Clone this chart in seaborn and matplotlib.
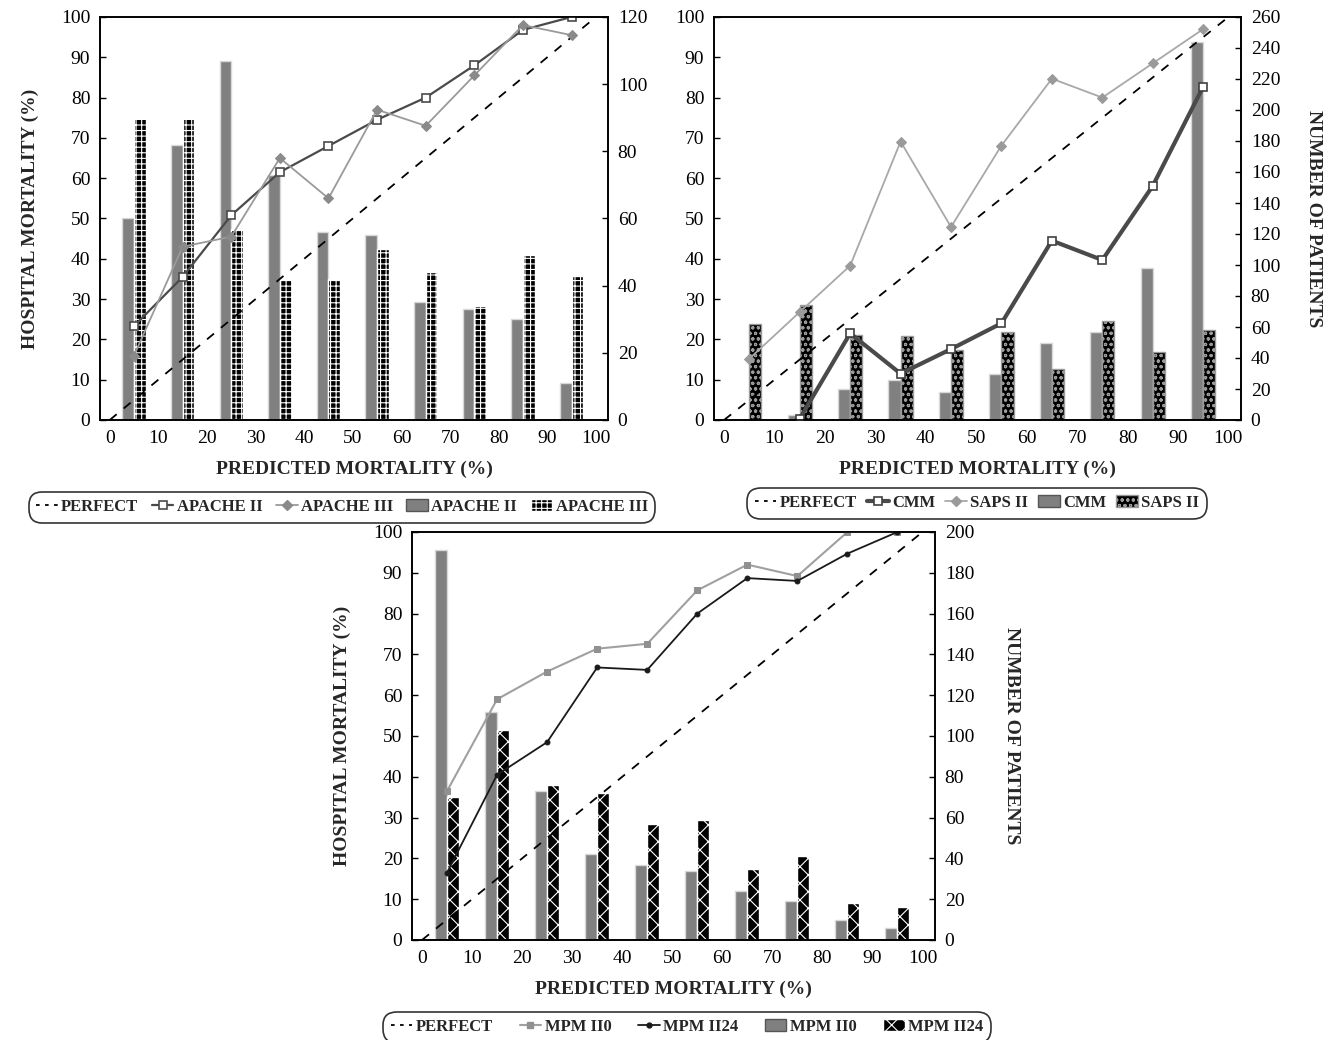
import numpy as np
import pandas as pd
import matplotlib
matplotlib.use("Agg")
import matplotlib.pyplot as plt
import seaborn as sns
from matplotlib.patches import Patch
from matplotlib.lines import Line2D

# ---------------- data ----------------
x_mid = [5, 15, 25, 35, 45, 55, 65, 75, 85, 95]
perfect_x = [0, 100]
perfect_y = [0, 100]
x_ticks = [0, 10, 20, 30, 40, 50, 60, 70, 80, 90, 100]

# Panel 1 (APACHE)
apache2_mort = [23.3, 35.5, 50.8, 61.5, 68, 74.5, 80, 88, 96.8, 100]
apache3_mort = [16, 43, 45.5, 65, 55, 77, 73, 85.5, 98, 95.5]
apache2_n = [60, 82, 107, 73, 56, 55, 35, 33, 30, 11]
apache3_n = [90, 90, 57, 42, 42, 51, 44, 34, 49, 43]

# Panel 2 (CMM / SAPS II)
cmm_mort = [np.nan, 0.3, 21.5, 11.5, 17.6, 24, 44.5, 39.7, 58.1, 82.7]
saps2_mort = [15.2, 26.8, 38.3, 69.1, 47.9, 68.1, 84.7, 80, 88.5, 97]
cmm_n = [0, 3, 20, 26, 18, 30, 50, 57, 98, 244]
saps2_n = [62, 74, 55, 54, 45, 57, 33, 64, 44, 58]

# Panel 3 (MPM II)
mpm0_mort = [36.5, 59, 65.8, 71.4, 72.6, 85.7, 92, 89.2, 100, 100]
mpm24_mort = [16.5, 40.5, 48.5, 66.8, 66.2, 80, 88.7, 88, 94.7, 100]
mpm0_n = [191, 112, 73, 42, 37, 34, 24, 19, 10, 6]
mpm24_n = [70, 103, 76, 72, 57, 59, 35, 41, 18, 16]

# ---------------- style ----------------
sns.set_theme(style="white")
plt.rcParams["font.family"] = ["Liberation Serif", "DejaVu Serif"]
plt.rcParams["hatch.linewidth"] = 0.8

SERIF = ["Liberation Serif", "DejaVu Serif"]
TICK_FS = 14
LABEL_FS = 14
LEG_FS = 12

fig = plt.figure(figsize=(13.39, 10.40), dpi=100)


def style_bars(container, face, edge, hatch):
    for p in container:
        p.set_facecolor(face)
        p.set_edgecolor(edge)
        p.set_linewidth(1.0)
        if hatch:
            p.set_hatch(hatch)


def make_panel(rect, lines, bars, rmax, rstep, left_label, right_label, leg_center,
               colspace=0.6, rpad=32):
    ax = fig.add_axes(rect)
    axr = ax.twinx()
    axr.set_zorder(ax.get_zorder() - 1)
    ax.patch.set_visible(False)
    axr.patch.set_visible(True)
    axr.patch.set_facecolor("white")

    # bars (right axis)
    names = [b[0] for b in bars]
    df_b = pd.DataFrame({
        "x": x_mid * 2,
        "n": list(bars[0][1]) + list(bars[1][1]),
        "model": [names[0]] * len(x_mid) + [names[1]] * len(x_mid),
    })
    sns.barplot(data=df_b, x="x", y="n", hue="model", hue_order=names,
                native_scale=True, dodge=True, width=0.48, ax=axr, legend=False,
                errorbar=None, palette=["#808080", "#000000"], saturation=1)
    for cont, b in zip(axr.containers, bars):
        style_bars(cont, b[2], b[3], b[4])

    # perfect line
    sns.lineplot(x=perfect_x, y=perfect_y, ax=ax, color="black", lw=1.3,
                 linestyle=(0, (5, 5)), legend=False)
    handles = [Line2D([], [], color="black", lw=1.3, linestyle=(0, (2, 3)))]
    labels = ["PERFECT"]
    for name, vals, kw in lines:
        d = pd.DataFrame({"x": x_mid, "y": vals}).dropna()
        sns.lineplot(data=d, x="x", y="y", ax=ax, legend=False, estimator=None, **kw)
        handles.append(Line2D([], [], **kw))
        labels.append(name)
    for b in bars:
        handles.append(Patch(facecolor=b[2], edgecolor=b[3] if b[4] else "#555555",
                             hatch=b[4]))
        labels.append(b[0])

    ax.set_xlim(-2, 102.5)
    ax.set_ylim(0, 100)
    axr.set_ylim(0, rmax)
    ax.set_xticks(x_ticks)
    ax.set_yticks(np.arange(0, 101, 10))
    axr.set_yticks(np.arange(0, rmax + 1, rstep))
    ax.set_xticklabels([str(t) for t in x_ticks])
    for a in (ax, axr):
        a.tick_params(direction="in", length=4, width=1, labelsize=TICK_FS, colors="black",
                      pad=7)
        for s in a.spines.values():
            s.set_color("black")
            s.set_linewidth(1.2)
        a.grid(False)
    axr.set_xlabel("")
    axr.set_ylabel("")
    ax.set_xlabel("PREDICTED MORTALITY (%)", fontsize=LABEL_FS, fontweight="bold",
                  family=SERIF, labelpad=10)
    ax.set_ylabel(left_label, fontsize=LABEL_FS, fontweight="bold", family=SERIF, labelpad=16)
    if right_label:
        axr.set_ylabel(right_label, fontsize=LABEL_FS, fontweight="bold", family=SERIF,
                       rotation=-90, labelpad=rpad)
    ax.yaxis.set_ticks_position("left")
    axr.yaxis.set_ticks_position("right")

    leg = fig.legend(handles, labels, loc="center", bbox_to_anchor=leg_center,
                     ncol=5, frameon=True, fancybox=True, edgecolor="black",
                     handlelength=1.3, handletextpad=0.2, columnspacing=colspace,
                     borderpad=0.25, prop={"family": SERIF, "weight": "bold", "size": LEG_FS})
    leg.get_frame().set_linewidth(1.2)
    leg.get_frame().set_boxstyle("round", pad=0.2, rounding_size=0.8)
    return ax, axr


W, H = 1339, 1040


def rect(l, r, t, b):
    return [l / W, 1 - b / H, (r - l) / W, (b - t) / H]


# Panel 1
make_panel(
    rect(100, 608, 17, 420),
    [
        ("APACHE II", apache2_mort, dict(color="#4a4a4a", lw=1.6, marker="s", ms=6,
                                         mfc="white", mec="#4a4a4a", mew=1.2)),
        ("APACHE III", apache3_mort, dict(color="#9a9a9a", lw=1.3, marker="D", ms=5,
                                          mfc="#8a8a8a", mec="#8a8a8a")),
    ],
    [
        ("APACHE II", apache2_n, "#808080", "#d8d8d8", None),
        ("APACHE III", apache3_n, "#000000", "#ffffff", "+++"),
    ],
    120, 20, "HOSPITAL MORTALITY (%)", None, (342 / W, 1 - 507 / H), colspace=0.8,
)

# Panel 2
make_panel(
    rect(714, 1241, 17, 420),
    [
        ("CMM", cmm_mort, dict(color="#4a4a4a", lw=3.0, marker="s", ms=6,
                               mfc="white", mec="#404040", mew=1.2)),
        ("SAPS II", saps2_mort, dict(color="#a8a8a8", lw=1.3, marker="D", ms=5,
                                     mfc="#9a9a9a", mec="#9a9a9a")),
    ],
    [
        ("CMM", cmm_n, "#808080", "#d8d8d8", None),
        ("SAPS II", saps2_n, "#000000", "#9a9a9a", "ooo"),
    ],
    260, 20, "", "NUMBER OF PATIENTS", (977 / W, 1 - 503 / H), colspace=0.6, rpad=30,
)

# Panel 3
make_panel(
    rect(412, 935, 532, 940),
    [
        ("MPM II0", mpm0_mort, dict(color="#a0a0a0", lw=1.5, marker="s", ms=5,
                                    mfc="#909090", mec="#909090")),
        ("MPM II24", mpm24_mort, dict(color="#1a1a1a", lw=1.3, marker="o", ms=3.5,
                                      mfc="#1a1a1a", mec="#1a1a1a")),
    ],
    [
        ("MPM II0", mpm0_n, "#808080", "#d8d8d8", None),
        ("MPM II24", mpm24_n, "#000000", "#ffffff", "xx"),
    ],
    200, 20, "HOSPITAL MORTALITY (%)", "NUMBER OF PATIENTS", (687 / W, 1 - 1027 / H),
    colspace=1.6, rpad=33,
)

fig.savefig("out.png", dpi=100, facecolor="white")
